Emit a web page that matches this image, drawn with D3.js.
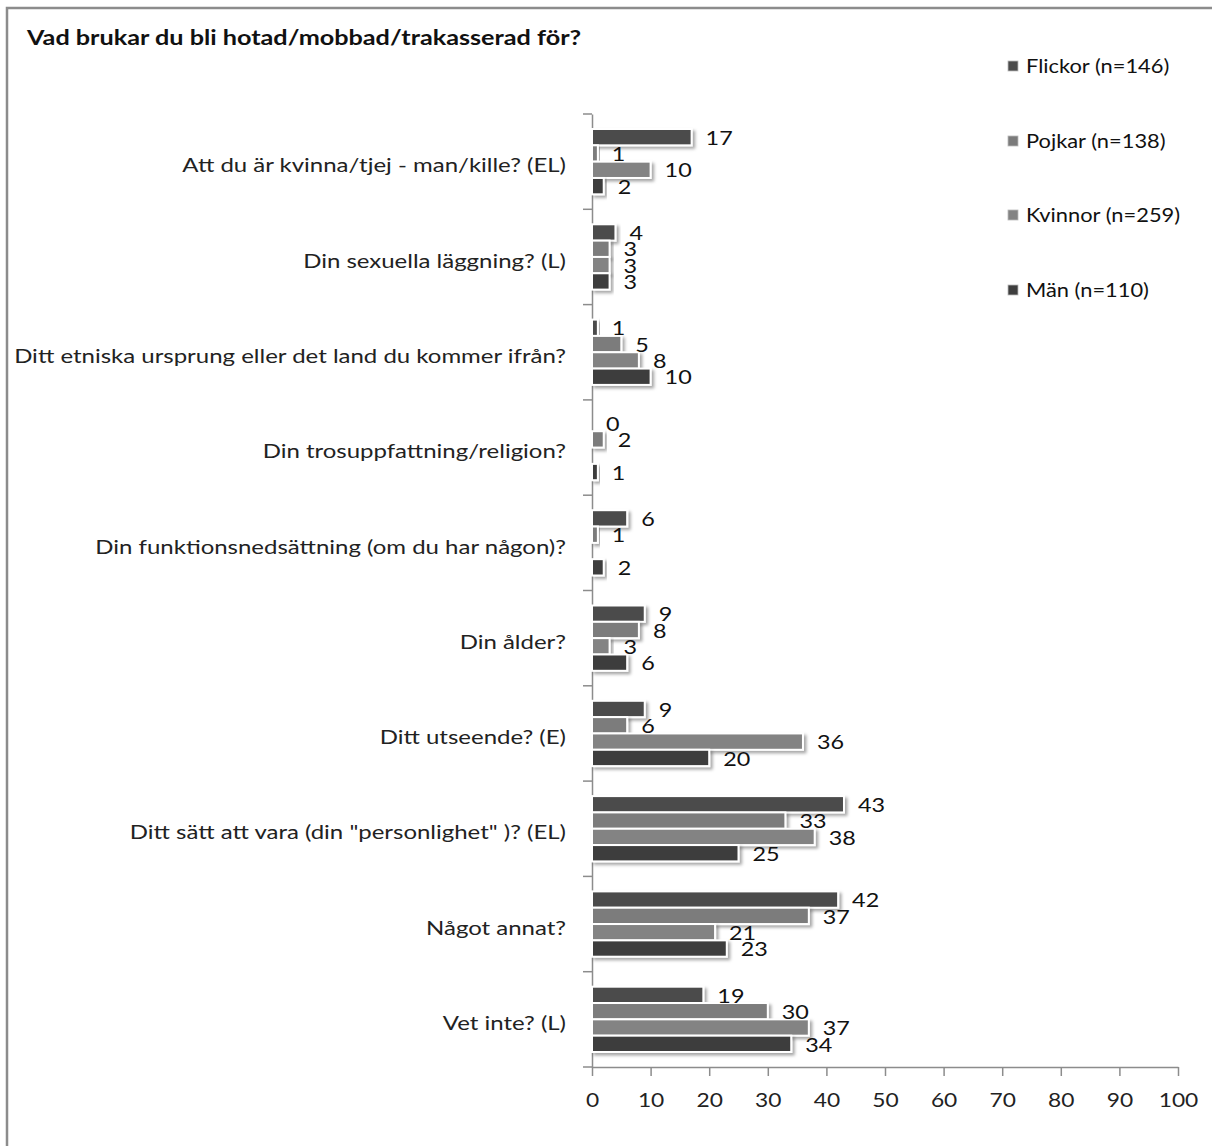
<!DOCTYPE html>
<html>
<head>
<meta charset="utf-8">
<script src="https://cdn.jsdelivr.net/npm/d3@7"></script>
<style>
  html, body { margin: 0; padding: 0; background: #fff; }
  svg { display: block; font-family: Lato, "Open Sans", sans-serif; }
</style>
</head>
<body>
<svg id="chart" width="1212" height="1146"></svg>
<script>
const title = "Vad brukar du bli hotad/mobbad/trakasserad för?";
const categories = [
  "Att du är kvinna/tjej - man/kille? (EL)",
  "Din sexuella läggning? (L)",
  "Ditt etniska ursprung eller det land du kommer ifrån?",
  "Din trosuppfattning/religion?",
  "Din funktionsnedsättning (om du har någon)?",
  "Din ålder?",
  "Ditt utseende? (E)",
  "Ditt sätt att vara (din \"personlighet\" )? (EL)",
  "Något annat?",
  "Vet inte? (L)"
];
const seriesNames = ["Flickor (n=146)", "Pojkar (n=138)", "Kvinnor (n=259)", "Män (n=110)"];
const flickor = [17, 4, 1, 0, 6, 9, 9, 43, 42, 19];
const pojkar  = [1, 3, 5, 2, 1, 8, 6, 33, 37, 30];
const kvinnor = [10, 3, 8, null, null, 3, 36, 38, 21, 37];
const man     = [2, 3, 10, 1, 2, 6, 20, 25, 23, 34];
const seriesColors = ["#4b4b4b", "#7b7b7b", "#838383", "#3e3e3e"];
const xTicks = [0, 10, 20, 30, 40, 50, 60, 70, 80, 90, 100];

const seriesValues = [flickor, pojkar, kvinnor, man];
const SX = 1.23; // horizontal stretch of the reference's lettering

const svg = d3.select("#chart");

// drop shadow filter
const defs = svg.append("defs");
const f = defs.append("filter").attr("id", "shadow")
  .attr("x", "-10%").attr("y", "-40%").attr("width", "130%").attr("height", "200%");
f.append("feDropShadow").attr("dx", 2.5).attr("dy", 2.5).attr("stdDeviation", 1.8)
  .attr("flood-color", "#000").attr("flood-opacity", 0.35);

// outer border
svg.append("rect").attr("x", 7).attr("y", 8).attr("width", 1220).attr("height", 1150)
  .attr("fill", "none").attr("stroke", "#8c8c8c").attr("stroke-width", 2.5);

// title
svg.append("text").attr("transform", `translate(27,45) scale(${SX},1)`)
  .attr("font-size", 20.5).attr("font-weight", "bold").attr("fill", "#111")
  .text(title);

const x = d3.scaleLinear().domain([0, 100]).range([592, 1178]);
const y = d3.scaleBand().domain(categories).range([114, 1067]).padding(0);
const inner = d3.scaleBand().domain(d3.range(4))
  .range([15, y.bandwidth() - 15]).padding(0);

// x axis
const xAxis = d3.axisBottom(x).tickValues(xTicks).tickSize(9).tickPadding(18).tickSizeOuter(0);
const gx = svg.append("g").attr("transform", "translate(0,1067)").call(xAxis);
gx.select(".domain").attr("stroke", "#8c8c8c").attr("stroke-width", 1.5);
gx.selectAll(".tick line").attr("stroke", "#8c8c8c").attr("stroke-width", 1.5);
gx.selectAll(".tick text").attr("font-size", 18.5).attr("fill", "#222")
  .attr("font-family", "Lato, sans-serif")
  .attr("transform", `scale(${SX},1)`);

// y axis
const yAxis = d3.axisLeft(y).tickSize(0).tickPadding(0);
const gy = svg.append("g").attr("transform", "translate(592,0)").call(yAxis);
gy.select(".domain").attr("stroke", "#8c8c8c").attr("stroke-width", 1.5);
gy.selectAll(".tick text").attr("font-size", 19.5).attr("fill", "#222")
  .attr("font-family", "Lato, sans-serif")
  .attr("x", 0).attr("dy", "0.55em")
  .attr("transform", `translate(-26,0) scale(${SX},1)`);
// category boundary ticks
const bounds = categories.map(c => y(c)).concat([y.range()[1]]);
svg.append("g").selectAll("line").data(bounds).join("line")
  .attr("x1", 583).attr("x2", 592).attr("y1", d => d).attr("y2", d => d)
  .attr("stroke", "#8c8c8c").attr("stroke-width", 1.5);

// bars
const rows = [];
categories.forEach((c, ci) => {
  seriesValues.forEach((vals, si) => {
    rows.push({ c, si, v: vals[ci] });
  });
});
const valid = rows.filter(d => d.v !== null);

svg.append("g").selectAll("rect").data(valid).join("rect")
  .attr("x", x(0))
  .attr("y", d => y(d.c) + inner(d.si))
  .attr("width", d => Math.max(0, x(d.v) - x(0)))
  .attr("height", inner.bandwidth())
  .attr("fill", d => seriesColors[d.si])
  .attr("stroke", "#fff").attr("stroke-width", 2)
  .attr("filter", "url(#shadow)");

// value labels
svg.append("g").selectAll("text").data(valid).join("text")
  .attr("transform", d => `translate(${x(d.v) + 14},${y(d.c) + inner(d.si) + inner.bandwidth() / 2 + 1}) scale(${SX},1)`)
  .attr("dy", "0.35em")
  .attr("font-size", 19).attr("fill", "#111")
  .text(d => d.v);

// legend
const legendY = [66, 141, 215, 290];
const lg = svg.append("g").selectAll("g").data(seriesNames).join("g")
  .attr("transform", (d, i) => `translate(1008,${legendY[i]})`);
lg.append("rect").attr("x", 0).attr("y", -5).attr("width", 10).attr("height", 10)
  .attr("fill", (d, i) => seriesColors[i]).attr("stroke", "#bbb").attr("stroke-width", 0.8);
lg.append("text").attr("transform", "translate(18,0) scale(1.15,1)").attr("dy", "0.35em")
  .attr("font-size", 19).attr("fill", "#111").text(d => d);
</script>
</body>
</html>
